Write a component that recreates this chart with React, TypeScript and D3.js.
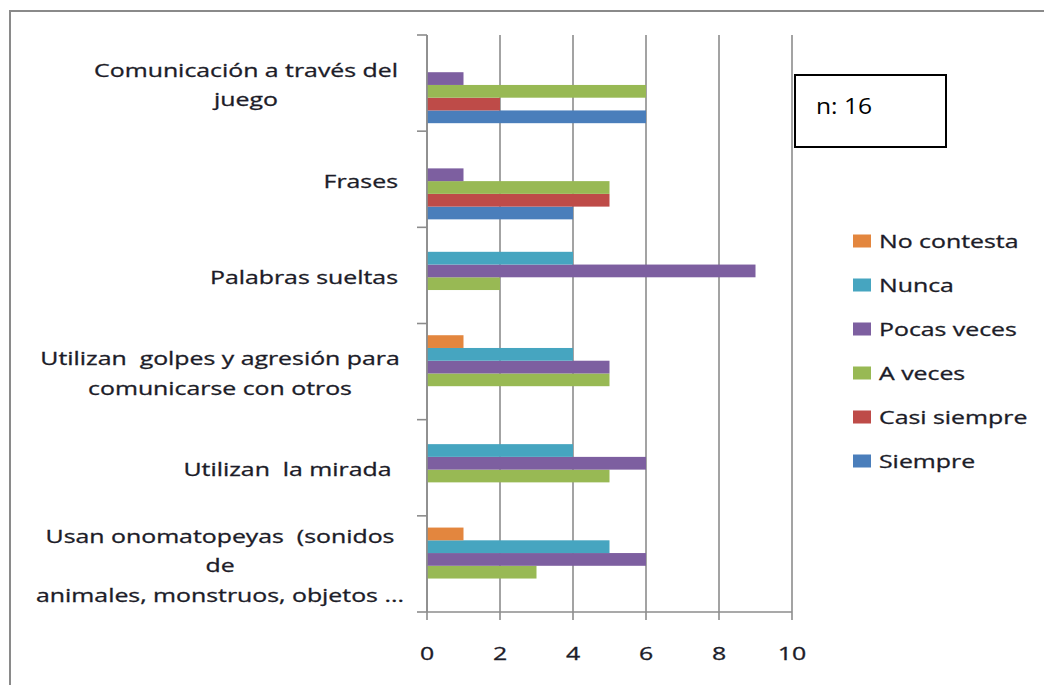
import React, { useEffect, useRef } from "react";
import * as d3 from "d3";

const categories: string[][] = [
  ["Comunicación a través del", "juego"],
  ["Frases"],
  ["Palabras sueltas"],
  ["Utilizan  golpes y agresión para", "comunicarse con otros"],
  ["Utilizan  la mirada "],
  ["Usan onomatopeyas  (sonidos", "de", "animales, monstruos, objetos ..."],
];

const seriesNames = ["Siempre", "Casi siempre", "A veces", "Pocas veces", "Nunca", "No contesta"];
const seriesColors = ["#4A7EBB", "#BE4B48", "#98B954", "#7D5FA0", "#46A5C0", "#E3863E"];

const siempre = [6, 4, 0, 0, 0, 0];
const casiSiempre = [2, 5, 0, 0, 0, 0];
const aVeces = [6, 5, 2, 5, 5, 3];
const pocasVeces = [1, 1, 9, 5, 6, 6];
const nunca = [0, 0, 4, 4, 4, 5];
const noContesta = [0, 0, 0, 1, 0, 1];

const xTicks = [0, 2, 4, 6, 8, 10];
const annotation = "n: 16";

const FONT = "'Open Sans', sans-serif";
const TEXT = "#1c1c28";
const GRID = "#8c8c8c";
const FS = 18;
const SX = 1.38;

export default function App() {
  const ref = useRef<SVGSVGElement | null>(null);

  useEffect(() => {
    const svg = d3.select(ref.current);
    svg.selectAll("*").remove();

    const values = [siempre, casiSiempre, aVeces, pocasVeces, nunca, noContesta];
    const catIdx = categories.map((_, i) => i);

    const x = d3.scaleLinear().domain([0, 10]).range([427, 792]);
    const y0 = d3.scaleBand<number>().domain(catIdx).range([35, 612]).padding(0);
    const bw = y0.bandwidth();
    const y1 = d3
      .scaleBand<number>()
      .domain([5, 4, 3, 2, 1, 0])
      .range([bw * 0.122, bw * 0.917])
      .padding(0);

    const styleText = (sel: any, size = FS) =>
      sel
        .attr("font-family", FONT)
        .attr("font-size", size)
        .attr("fill", TEXT)
        .attr("stroke", TEXT)
        .attr("stroke-width", 0.3)
        .style("white-space", "pre");

    // outer border
    svg
      .append("rect")
      .attr("x", 10)
      .attr("y", 11)
      .attr("width", 1060)
      .attr("height", 700)
      .attr("fill", "#fff")
      .attr("stroke", "#8a8a8a")
      .attr("stroke-width", 2);

    // gridlines
    svg
      .append("g")
      .selectAll("line")
      .data(xTicks)
      .join("line")
      .attr("x1", (d) => x(d))
      .attr("x2", (d) => x(d))
      .attr("y1", 35)
      .attr("y2", 620)
      .attr("stroke", GRID)
      .attr("stroke-width", 1.6);

    // bars
    const gBars = svg.append("g");
    values.forEach((vals, s) => {
      gBars
        .append("g")
        .selectAll("rect")
        .data(vals.map((v, c) => ({ v, c })))
        .join("rect")
        .attr("x", x(0))
        .attr("y", (d) => (y0(d.c) as number) + (y1(s) as number))
        .attr("width", (d) => x(d.v) - x(0))
        .attr("height", y1.bandwidth())
        .attr("fill", seriesColors[s]);
    });

    // category axis
    const boundaries = d3.range(categories.length + 1).map((i) => 35 + i * bw);
    svg
      .append("line")
      .attr("x1", x(0))
      .attr("x2", x(0))
      .attr("y1", 35)
      .attr("y2", 612)
      .attr("stroke", GRID)
      .attr("stroke-width", 1.6);
    svg
      .append("g")
      .selectAll("line")
      .data(boundaries)
      .join("line")
      .attr("x1", 417)
      .attr("x2", x(0))
      .attr("y1", (d) => d)
      .attr("y2", (d) => d)
      .attr("stroke", GRID)
      .attr("stroke-width", 1.6);

    // value axis
    svg
      .append("line")
      .attr("x1", x(0))
      .attr("x2", x(10))
      .attr("y1", 612)
      .attr("y2", 612)
      .attr("stroke", GRID)
      .attr("stroke-width", 1.6);
    styleText(
      svg
        .append("g")
        .selectAll("text")
        .data(xTicks)
        .join("text")
        .attr("transform", (d) => `translate(${x(d)},660) scale(${SX},1)`)
        .attr("text-anchor", "middle")
    ).text((d: number) => String(d));

    // category labels
    const lineH = 29.5;
    const rightEdge = 398;
    const maxBox = 356;
    categories.forEach((lines, c) => {
      const cy = (y0(c) as number) + bw / 2;
      const g = svg.append("g");
      const texts = styleText(
        g
          .selectAll("text")
          .data(lines)
          .join("text")
          .attr("text-anchor", "middle")
      ).text((d: string) => d);
      let maxW = 0;
      texts.each(function (this: SVGTextElement) {
        maxW = Math.max(maxW, this.getComputedTextLength() * SX);
      });
      const cx = rightEdge - Math.min(maxW, maxBox) / 2;
      texts.attr(
        "transform",
        (_: string, i: number) =>
          `translate(${cx},${cy + 8.5 + (i - (lines.length - 1) / 2) * lineH}) scale(${SX},1)`
      );
    });

    // legend
    const legendOrder = [5, 4, 3, 2, 1, 0];
    const ly = d3.scalePoint<number>().domain(legendOrder).range([241, 461]);
    const lg = svg.append("g");
    legendOrder.forEach((s) => {
      const yy = ly(s) as number;
      lg.append("rect")
        .attr("x", 853)
        .attr("y", yy - 6.5)
        .attr("width", 18)
        .attr("height", 13)
        .attr("fill", seriesColors[s]);
      styleText(
        lg.append("text").attr("transform", `translate(879,${yy + 7}) scale(${SX},1)`)
      ).text(seriesNames[s]);
    });

    // annotation box
    svg
      .append("rect")
      .attr("x", 795)
      .attr("y", 75)
      .attr("width", 151)
      .attr("height", 72)
      .attr("fill", "#fff")
      .attr("stroke", "#000")
      .attr("stroke-width", 2);
    svg
      .append("text")
      .attr("transform", "translate(816,114) scale(1.12,1)")
      .attr("font-family", FONT)
      .attr("font-size", 22)
      .attr("fill", "#000")
      .text(annotation);
  }, []);

  return (
    <svg
      ref={ref}
      width={1044}
      height={685}
      style={{ position: "absolute", left: 0, top: 0, background: "#fff" }}
    />
  );
}
